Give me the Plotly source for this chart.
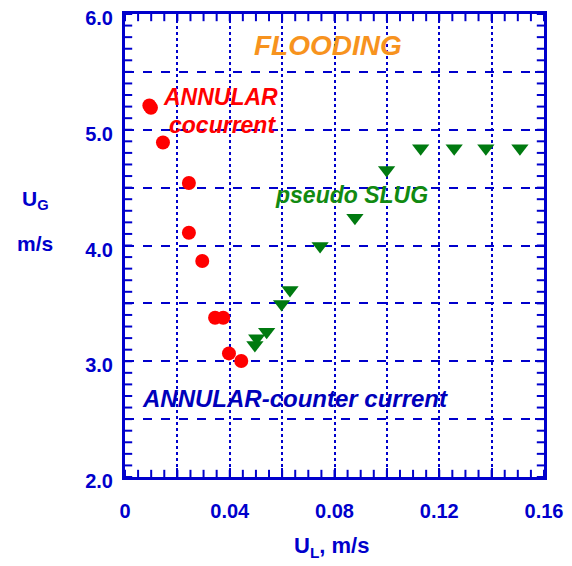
import numpy as np
import plotly.graph_objects as go

# Data
annular_ul = [0.0093, 0.0099, 0.0145, 0.0244, 0.0244, 0.0295, 0.0344, 0.0375, 0.0397, 0.0444]
annular_ug = [5.21, 5.19, 4.89, 4.54, 4.11, 3.866, 3.376, 3.376, 3.068, 3.002]

slug_ul = [0.0496, 0.0503, 0.0541, 0.0598, 0.0630, 0.0745, 0.0878, 0.0999, 0.1129, 0.1257, 0.1378, 0.1508]
slug_ug = [3.14, 3.198, 3.255, 3.495, 3.616, 3.996, 4.24, 4.652, 4.84, 4.84, 4.84, 4.84]

x_tickvals = [0, 0.02, 0.04, 0.06, 0.08, 0.10, 0.12, 0.14, 0.16]
x_ticktext = ["0", "", "0.04", "", "0.08", "", "0.12", "", "0.16"]
y_tickvals = [2.0, 2.5, 3.0, 3.5, 4.0, 4.5, 5.0, 5.5, 6.0]
y_ticktext = ["2.0", "", "3.0", "", "4.0", "", "5.0", "", "6.0"]

X_RANGE = [0, 0.16]
Y_RANGE = [2.0, 6.0]
X_MINOR = 0.005
Y_MINOR = 0.1

BLUE = "#0000CC"
FONT = "Liberation Sans, Arial, sans-serif"
OFF = 8  # page body margin
W, H = 572 - OFF, 566 - OFF
L, T = 125 - OFF, 14 - OFF
R, B = 28, 89
PW, PH = W - L - R, H - T - B
XPX = (X_RANGE[1] - X_RANGE[0]) / PW   # data units per pixel
YPX = (Y_RANGE[1] - Y_RANGE[0]) / PH

fig = go.Figure()
fig.add_trace(go.Scatter(
    x=annular_ul, y=annular_ug, mode="markers",
    marker=dict(symbol="circle", size=14, color="#FF0000", line=dict(width=0)),
    showlegend=False))
fig.add_trace(go.Scatter(
    x=slug_ul, y=slug_ug, mode="markers",
    marker=dict(symbol="triangle-down", size=15, color="#007A10", line=dict(width=0)),
    showlegend=False))

# small inside ticks along all four frame edges, placed through the axes' scales
mx = np.round(np.arange(X_RANGE[0], X_RANGE[1] + 1e-9, X_MINOR), 4)
my = np.round(np.arange(Y_RANGE[0], Y_RANGE[1] + 1e-9, Y_MINOR), 3)
tick_len = 6
for yy in (Y_RANGE[0] + tick_len / 2 * YPX, Y_RANGE[1] - tick_len / 2 * YPX):
    fig.add_trace(go.Scatter(
        x=mx, y=[yy] * len(mx), mode="markers", cliponaxis=False, hoverinfo="skip",
        marker=dict(symbol="line-ns", size=tick_len, line=dict(width=2, color=BLUE)),
        showlegend=False))
for xx in (X_RANGE[0] + tick_len / 2 * XPX, X_RANGE[1] - tick_len / 2 * XPX):
    fig.add_trace(go.Scatter(
        x=[xx] * len(my), y=my, mode="markers", cliponaxis=False, hoverinfo="skip",
        marker=dict(symbol="line-ew", size=tick_len, line=dict(width=2, color=BLUE)),
        showlegend=False))

axis_common = dict(
    showline=True, linecolor=BLUE, linewidth=3, mirror="ticks",
    ticks="inside", ticklen=9, tickwidth=2, tickcolor=BLUE,
    showgrid=True, gridcolor=BLUE, gridwidth=2,
    zeroline=False,
    tickfont=dict(family=FONT, size=20, color=BLUE, weight="bold"),
)

fig.update_layout(
    xaxis=dict(range=X_RANGE, tickmode="array", tickvals=x_tickvals, ticktext=x_ticktext,
               griddash="dot", ticklabelstandoff=14, **axis_common),
    yaxis=dict(range=Y_RANGE, tickmode="array", tickvals=y_tickvals, ticktext=y_ticktext,
               griddash="dash", ticklabeloverflow="allow", ticklabelstandoff=5,
               ticklabelshift=4, **axis_common),
)

def label(text, x, y, color, size):
    fig.add_annotation(
        x=x, y=y, xref="x", yref="y", text=text, showarrow=False,
        font=dict(family=FONT, size=size, color=color, weight="bold", style="italic"),
        xanchor="center", yanchor="middle")

label("FLOODING", 0.0775, 5.73, "#F7931E", 28)
label("ANNULAR", 0.0365, 5.28, "#FF0000", 23)
label("cocurrent", 0.0372, 5.04, "#FF0000", 23)
label("pseudo SLUG", 0.0865, 4.44, "#118A11", 23)
label("ANNULAR-counter current", 0.0649, 2.68, "#0000BB", 24)

def px_x(px):
    return (px - OFF - L) / PW

def px_y(py):
    return (H - B - (py - OFF)) / PH

def title(text, x, y, size=21):
    fig.add_annotation(x=px_x(x), y=px_y(y), xref="paper", yref="paper",
                       xanchor="center", yanchor="middle", text=text, showarrow=False,
                       font=dict(family=FONT, size=size, color=BLUE, weight="bold"))

title("U<sub>G</sub>", 35, 200)
title("m/s", 35, 243)
title("U<sub>L</sub>, m/s", 331, 547, 22)

fig.update_layout(
    width=W, height=H,
    margin=dict(l=L, r=R, t=T, b=B, autoexpand=False),
    paper_bgcolor="white", plot_bgcolor="white",
)

fig.write_html("out.html")
